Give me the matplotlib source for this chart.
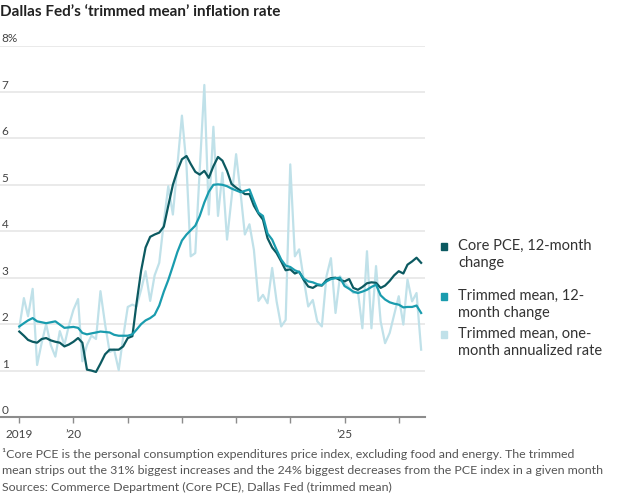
import pandas as pd
import matplotlib
matplotlib.use('Agg')
import matplotlib.pyplot as plt
from matplotlib.patches import Rectangle
from matplotlib.transforms import blended_transform_factory, offset_copy

# monthly, Jan 2019 - Jun 2026
months = pd.date_range('2019-01-01', periods=90, freq='MS')

core_pce = [1.84, 1.75, 1.66, 1.62, 1.60, 1.68, 1.70, 1.65, 1.62, 1.60,
            1.52, 1.56, 1.62, 1.70, 1.60, 1.02, 1.00, 0.97, 1.15, 1.35,
            1.45, 1.45, 1.45, 1.52, 1.70, 1.74, 2.45, 3.15, 3.65, 3.88,
            3.93, 3.97, 4.10, 4.55, 5.00, 5.30, 5.55, 5.62, 5.45, 5.28,
            5.22, 5.30, 5.15, 5.40, 5.60, 5.52, 5.30, 5.02, 4.94, 4.87,
            4.80, 4.80, 4.55, 4.38, 4.25, 3.85, 3.65, 3.53, 3.35, 3.16,
            3.18, 3.09, 3.13, 2.95, 2.81, 2.78, 2.84, 2.83, 2.95, 2.99,
            3.00, 2.95, 2.92, 2.97, 2.78, 2.74, 2.80, 2.88, 2.90, 2.89,
            2.78, 2.83, 2.93, 3.05, 3.14, 3.09, 3.28, 3.35, 3.43, 3.32]

trimmed_12m = [1.95, 2.02, 2.08, 2.13, 2.06, 2.04, 2.02, 2.04, 2.06, 1.99,
               1.92, 1.93, 1.94, 1.92, 1.81, 1.78, 1.80, 1.82, 1.84, 1.83,
               1.82, 1.77, 1.75, 1.75, 1.75, 1.78, 1.88, 2.00, 2.08, 2.13,
               2.20, 2.40, 2.70, 2.95, 3.25, 3.55, 3.80, 3.93, 4.02, 4.12,
               4.33, 4.62, 4.85, 5.00, 5.01, 5.00, 4.97, 4.92, 4.88, 4.84,
               4.87, 4.90, 4.65, 4.40, 4.33, 3.95, 3.82, 3.60, 3.39, 3.26,
               3.23, 3.16, 3.12, 2.98, 2.92, 2.90, 2.86, 2.84, 2.92, 2.97,
               2.99, 3.00, 2.82, 2.76, 2.70, 2.67, 2.70, 2.74, 2.80, 2.85,
               2.62, 2.53, 2.47, 2.44, 2.42, 2.36, 2.37, 2.37, 2.40, 2.24]

trimmed_1m = [1.92, 2.56, 2.17, 2.76, 1.12, 1.60, 2.00, 1.55, 1.30, 1.85,
              1.55, 1.97, 2.31, 2.54, 1.20, 1.55, 1.75, 1.68, 2.71, 2.00,
              1.40, 1.45, 1.01, 1.72, 2.37, 2.42, 2.38, 2.74, 3.14, 2.50,
              3.05, 3.32, 4.20, 4.97, 4.36, 5.40, 6.49, 5.40, 3.46, 3.53,
              5.33, 7.15, 4.36, 6.25, 4.33, 5.26, 3.82, 4.70, 5.66, 4.80,
              3.93, 4.15, 3.60, 2.50, 2.63, 2.45, 3.21, 2.49, 1.95, 2.09,
              5.44, 3.46, 3.61, 2.96, 2.38, 2.52, 2.06, 1.95, 3.03, 3.42,
              2.24, 3.03, 2.89, 2.78, 2.67, 2.70, 1.91, 3.57, 1.91, 3.25,
              2.06, 1.59, 1.81, 2.20, 2.60, 1.99, 2.96, 2.49, 2.67, 1.45]

y_ticks = [0, 1, 2, 3, 4, 5, 6, 7, 8]
y_labels = ['0', '1', '2', '3', '4', '5', '6', '7', '8%']
x_years = [2019, 2020, 2021, 2022, 2023, 2024, 2025, 2026]
x_labels = ['2019', '\u201920', '', '', '', '', '\u201925', '']

legend_labels = ['Core PCE, 12-month\nchange',
                 'Trimmed mean, 12-\nmonth change',
                 'Trimmed mean, one-\nmonth annualized rate']

c_dark = '#0c5a61'
c_mid = '#1a9cae'
c_light = '#c0e1e9'

plt.rcParams['font.family'] = ['Lato', 'DejaVu Sans']

fig = plt.figure(figsize=(6.2, 5.0), dpi=100)
ax = fig.add_axes([0, 0.166, 425 / 620, 0.743])

ax.plot(months, trimmed_1m, color=c_light, lw=1.6)
ax.plot(months, core_pce, color=c_dark, lw=1.6)
ax.plot(months, trimmed_12m, color=c_mid, lw=1.6)

start = pd.Timestamp('2019-01-01')
ax.set_xlim(start - pd.Timedelta(days=130), start + pd.Timedelta(days=2734))
ax.set_ylim(0, 8)

for v in y_ticks[1:]:
    ax.axhline(v, color='#e8e8e8', lw=1.3, zorder=0)

trans = blended_transform_factory(ax.transAxes, ax.transData)
trans = offset_copy(trans, fig=fig, x=0, y=3, units='dots')
for v, lab in zip(y_ticks, y_labels):
    ax.text(0.004, v, lab, transform=trans, fontsize=8.5, color='#444444',
            ha='left', va='baseline')

ax.set_yticks([])
ax.set_xticks([pd.Timestamp(f'{y}-01-01') for y in x_years])
ax.set_xticklabels(x_labels)
ax.tick_params(axis='x', direction='out', length=4, width=1, color='#8c8c8c',
               labelsize=8.5, labelcolor='#444444', pad=5)

for s in ['top', 'left', 'right']:
    ax.spines[s].set_visible(False)
ax.spines['bottom'].set_color('#8c8c8c')
ax.spines['bottom'].set_linewidth(1.5)

fig.text(0.0, 0.976, 'Dallas Fed\u2019s \u2018trimmed mean\u2019 inflation rate',
         fontsize=11, fontweight='bold', color='#222222', ha='left', va='center')

# legend
leg_colors = [c_dark, c_mid, c_light]
leg_y = [246, 296, 334]
for col, lab, yy in zip(leg_colors, legend_labels, leg_y):
    fig.patches.append(Rectangle((440.5 / 620, 1 - (yy + 3.5) / 500), 7 / 620, 7 / 500,
                                 transform=fig.transFigure, color=col))
    fig.text(458 / 620, 1 - (yy - 7.5) / 500, lab, fontsize=10.5, color='#333333',
             ha='left', va='top', linespacing=1.3)

foot = ('\u00b9Core PCE is the personal consumption expenditures price index, excluding food and energy. The trimmed\n'
        'mean strips out the 31% biggest increases and the 24% biggest decreases from the PCE index in a given month\n'
        'Sources: Commerce Department (Core PCE), Dallas Fed (trimmed mean)')
fig.text(0.003, 1 - 448 / 500, foot, fontsize=8.9, color='#555555', ha='left', va='top',
         linespacing=1.6)

fig.savefig('out.png', dpi=100)
